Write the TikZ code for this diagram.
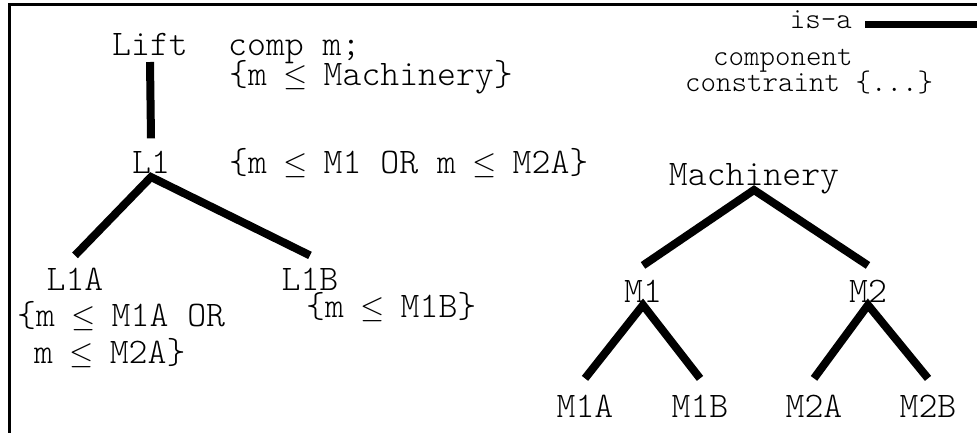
\documentclass[tikz,border=0pt]{standalone}
\usepackage{fontspec}
\setmonofont{Latin Modern Mono Light}
\newcommand\lessq{\makebox[0.525em]{\raisebox{-0.02em}{\scalebox{1.25}{$\le$}}}}
\begin{document}
\begin{tikzpicture}[x=1pt,y=-1pt,
  lbl/.style={inner sep=0pt, font=\ttfamily\fontsize{36}{40}\selectfont},
  leg/.style={inner sep=0pt, font=\ttfamily\fontsize{29.5}{33}\selectfont},
  isa/.style={line width=8pt, line join=miter},
  frame/.style={line width=3pt}]
\useasboundingbox (0,0) rectangle (977,432);
% frame
\coordinate (fb) at (9,440);
\coordinate (ftl) at (9,4);
\coordinate (fr) at (985,4);
\draw[frame] (fb) -- (ftl) -- (fr);
% left tree
\node[lbl, anchor=base] (lift) at (150,55) {Lift};
\node[lbl, anchor=base west] (liftc1) at (228,55) {comp m;};
\node[lbl, anchor=base west] (liftc2) at (229,85) {\{m \lessq{} Machinery\}};
\node[lbl, anchor=base] (L1) at (151,173) {L1};
\node[lbl, anchor=base west] (L1c) at (229,173) {\{m \lessq{} M1 OR m \lessq{} M2A\}};
\node[lbl, anchor=base] (L1A) at (75,290) {L1A};
\node[lbl, anchor=base] (L1B) at (310,290) {L1B};
\node[lbl, anchor=base west] (L1Ac1) at (17,326) {\{m \lessq{} M1A OR};
\node[lbl, anchor=base west] (L1Ac2) at (34,363) {m \lessq{} M2A\}};
\node[lbl, anchor=base west] (L1Bc) at (306,317) {\{m \lessq{} M1B\}};
\draw[isa] ([yshift=-7pt]lift.base) -- ([yshift=12pt]L1.north);
\draw[isa] ([yshift=12pt]L1A.north) -- ([yshift=-4pt]L1.base) -- ([yshift=12pt]L1B.north);
% right tree
\node[lbl, anchor=base] (mach) at (754,185) {Machinery};
\node[lbl, anchor=base] (M1) at (643,302) {M1};
\node[lbl, anchor=base] (M2) at (868,302) {M2};
\node[lbl, anchor=base] (M1A) at (585,417) {M1A};
\node[lbl, anchor=base] (M1B) at (700,417) {M1B};
\node[lbl, anchor=base] (M2A) at (814,417) {M2A};
\node[lbl, anchor=base] (M2B) at (928,417) {M2B};
\draw[isa] ([yshift=14pt]M1.north) -- ([yshift=-5pt]mach.base) -- ([yshift=14pt]M2.north);
\draw[isa] ([yshift=16pt]M1A.north) -- ([yshift=-3pt]M1.base) -- ([yshift=16pt]M1B.north);
\draw[isa] ([yshift=16pt]M2A.north) -- ([yshift=-3pt]M2.base) -- ([yshift=16pt]M2B.north);
% legend
\node[leg, anchor=base east] (isalbl) at (852,28) {is-a};
\coordinate (isaend) at (977,24);
\draw[line width=7pt] ([xshift=13pt,yshift=4pt]isalbl.base east) -- (isaend);
\node[leg, anchor=base west] (comp) at (713,65) {component};
\node[leg, anchor=base west] (cons) at (685,91) {constraint \{...\}};
\end{tikzpicture}
\end{document}
